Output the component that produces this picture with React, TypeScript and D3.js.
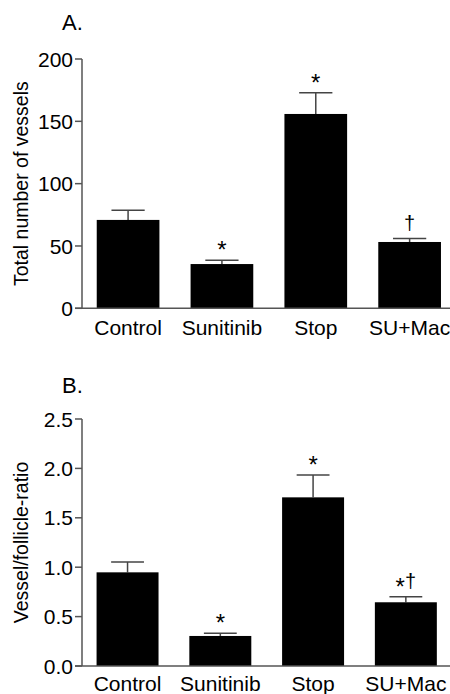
import React from "react";
import * as d3 from "d3";

const categories = ["Control", "Sunitinib", "Stop", "SU+Mac"];

const vesselsMean = [70.9, 35.5, 155.9, 53.2];
const vesselsErr = [7.7, 3.0, 17.1, 2.7];
const vesselsMarks = ["", "*", "*", "†"];
const vesselsTicks = [0, 50, 100, 150, 200];

const ratioMean = [0.948, 0.304, 1.707, 0.645];
const ratioErr = [0.105, 0.027, 0.226, 0.055];
const ratioMarks = ["", "*", "*", "*†"];
const ratioTicks = [0, 0.5, 1.0, 1.5, 2.0, 2.5];

const FONT = "'Liberation Sans', Arial, Helvetica, sans-serif";
const AXIS = "#555";
const ERR = "#444";

type PanelProps = {
  letter: string;
  letterY: number;
  yTitle: string;
  means: number[];
  errs: number[];
  marks: string[];
  ticks: number[];
  yMax: number;
  yTop: number;
  yBottom: number;
  xRangeEnd: number;
  tickFmt: (v: number) => string;
  labelY: number;
};

function Mark({ text, x, y }: { text: string; x: number; y: number }) {
  const parts = Array.from(text);
  return (
    <text x={x} y={y} textAnchor="middle" fontFamily={FONT} fontSize={20} fill="#000">
      {parts.map((c, i) =>
        c === "*" ? (
          <tspan key={i} fontSize={24} dy={7}>{c}</tspan>
        ) : (
          <tspan key={i} fontSize={20} dy={parts[i - 1] === "*" ? -7 : 0}>{c}</tspan>
        )
      )}
    </text>
  );
}

function Panel(p: PanelProps) {
  const axisX = 82;
  const x = d3
    .scaleBand<string>()
    .domain(categories)
    .range([axisX, p.xRangeEnd])
    .paddingInner(0.332)
    .paddingOuter(0.157);
  const y = d3.scaleLinear().domain([0, p.yMax]).range([p.yBottom, p.yTop]);
  const bw = x.bandwidth();
  const capHalf = bw * 0.265;
  const yMid = (p.yTop + p.yBottom) / 2;
  return (
    <g>
      <text x={62} y={p.letterY} fontFamily={FONT} fontSize={22} fill="#000">
        {p.letter}
      </text>
      <text
        transform={`translate(28,${yMid}) rotate(-90)`}
        textAnchor="middle"
        fontFamily={FONT}
        fontSize={19.5}
        fill="#000"
      >
        {p.yTitle}
      </text>
      {categories.map((c, i) => {
        const cx = (x(c) as number) + bw / 2;
        const top = y(p.means[i] + p.errs[i]);
        return (
          <g key={c}>
            <line x1={cx} x2={cx} y1={y(p.means[i])} y2={top} stroke={ERR} strokeWidth={1.5} />
            <line x1={cx - capHalf} x2={cx + capHalf} y1={top} y2={top} stroke={ERR} strokeWidth={1.5} />
            <rect
              x={x(c) as number}
              y={y(p.means[i])}
              width={bw}
              height={p.yBottom - y(p.means[i])}
              fill="#000"
            />
            {p.marks[i] && <Mark text={p.marks[i]} x={cx} y={top - 9} />}
            <text
              x={cx}
              y={p.labelY}
              textAnchor="middle"
              fontFamily={FONT}
              fontSize={21}
              fill="#000"
            >
              {c}
            </text>
          </g>
        );
      })}
      <line x1={axisX} x2={axisX} y1={p.yTop} y2={p.yBottom} stroke={AXIS} strokeWidth={1.5} />
      <line x1={axisX - 7} x2={450} y1={p.yBottom} y2={p.yBottom} stroke={AXIS} strokeWidth={1.5} />
      {p.ticks.map((t) => (
        <g key={t}>
          <line x1={axisX - 7} x2={axisX} y1={y(t)} y2={y(t)} stroke={AXIS} strokeWidth={1.5} />
          <text
            x={axisX - 9}
            y={y(t)}
            dy="0.36em"
            textAnchor="end"
            fontFamily={FONT}
            fontSize={21}
            fill="#000"
          >
            {p.tickFmt(t)}
          </text>
        </g>
      ))}
    </g>
  );
}

export default function App() {
  return (
    <svg
      width={450}
      height={694}
      style={{ position: "absolute", left: 0, top: 0, background: "#fff" }}
    >
      <Panel
        letter="A."
        letterY={30}
        yTitle="Total number of vessels"
        means={vesselsMean}
        errs={vesselsErr}
        marks={vesselsMarks}
        ticks={vesselsTicks}
        yMax={200}
        yTop={59}
        yBottom={308.3}
        xRangeEnd={455.7}
        tickFmt={(v) => d3.format("d")(v)}
        labelY={335}
      />
      <Panel
        letter="B."
        letterY={393}
        yTitle="Vessel/follicle-ratio"
        means={ratioMean}
        errs={ratioErr}
        marks={ratioMarks}
        ticks={ratioTicks}
        yMax={2.5}
        yTop={419}
        yBottom={666}
        xRangeEnd={451.4}
        tickFmt={(v) => d3.format(".1f")(v)}
        labelY={691}
      />
    </svg>
  );
}
